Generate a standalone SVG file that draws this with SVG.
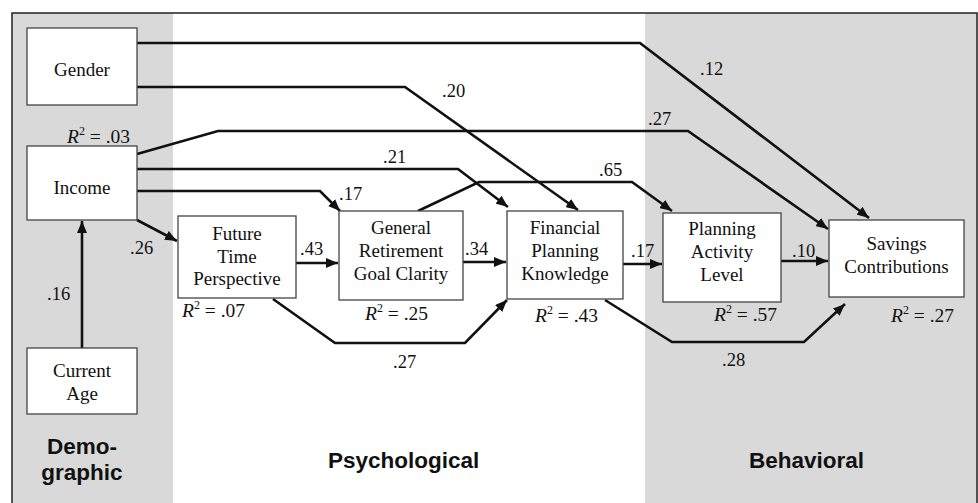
<svg xmlns="http://www.w3.org/2000/svg" width="978" height="503" viewBox="0 0 978 503">
<style>
.bg{fill:#d9d9d9}
.box{fill:#fff;stroke:#444;stroke-width:1.3}
.t{font-family:"Liberation Serif","Times New Roman",serif;font-size:19px;fill:#111;text-anchor:middle}
.l{font-family:"Liberation Serif","Times New Roman",serif;font-size:18.5px;fill:#111}
.r{font-family:"Liberation Serif","Times New Roman",serif;font-size:19.5px;fill:#111}
.sec{font-family:"Liberation Sans",Arial,sans-serif;font-size:22.5px;font-weight:bold;fill:#111}
.c{fill:none;stroke:#111;stroke-width:2.6;stroke-linejoin:miter}
</style>
<defs>
<marker id="ah" viewBox="0 0 12 10" refX="12" refY="5" markerWidth="12" markerHeight="10" markerUnits="userSpaceOnUse" orient="auto"><path d="M0,0 L12,5 L0,10 z" fill="#111"/></marker>
</defs>
<rect x="0" y="0" width="978" height="503" fill="#fff"/>
<rect class="bg" x="12" y="13" width="161" height="495"/>
<rect class="bg" x="645" y="13" width="332" height="495"/>
<rect x="12" y="13" width="965" height="500" fill="none" stroke="#222" stroke-width="1.5"/>

<g id="connectors">
<path class="c" d="M82,348 L82,221" stroke-width="3.2" marker-end="url(#ah)"/>
<path class="c" d="M137,220 L177,241" marker-end="url(#ah)"/>
<path class="c" d="M296,263 L338,263" marker-end="url(#ah)"/>
<path class="c" d="M463,262 L506,262" marker-end="url(#ah)"/>
<path class="c" d="M623,264 L662,264" marker-end="url(#ah)"/>
<path class="c" d="M781,261 L828,261" marker-end="url(#ah)"/>
<path class="c" d="M137,43 L640,43 L869,218" marker-end="url(#ah)"/>
<path class="c" d="M137,87 L405,87 L578,210" marker-end="url(#ah)"/>
<path class="c" d="M137,154 L218,131 L688,131 L828,229" marker-end="url(#ah)"/>
<path class="c" d="M137,169 L458,169 L508,207" marker-end="url(#ah)"/>
<path class="c" d="M137,191 L320,191 L340,211" marker-end="url(#ah)"/>
<path class="c" d="M418,211 L479,182 L632,182 L672,211" marker-end="url(#ah)"/>
<path class="c" d="M273,299 L335,343 L465,343 L507,300" marker-end="url(#ah)"/>
<path class="c" d="M605,300 L672,342 L804,342 L845,304" marker-end="url(#ah)"/>
</g>

<g id="gender"><rect class="box" x="27" y="28" width="110" height="77"/><text class="t" x="82" y="76">Gender</text></g>
<g id="income"><rect class="box" x="27" y="146" width="110" height="74"/><text class="t" x="82" y="194">Income</text></g>
<g id="currentAge"><rect class="box" x="27" y="348" width="110" height="66"/><text class="t" x="82" y="377">Current</text><text class="t" x="82" y="400">Age</text></g>
<g id="ftp"><rect class="box" x="178" y="216" width="118" height="82"/><text class="t" x="237" y="240">Future</text><text class="t" x="237" y="263">Time</text><text class="t" x="237" y="285">Perspective</text></g>
<g id="grgc"><rect class="box" x="339" y="211" width="124" height="89"/><text class="t" x="401" y="234">General</text><text class="t" x="401" y="257">Retirement</text><text class="t" x="401" y="280">Goal Clarity</text></g>
<g id="fpk"><rect class="box" x="507" y="211" width="116" height="88"/><text class="t" x="565" y="234">Financial</text><text class="t" x="565" y="257">Planning</text><text class="t" x="565" y="280">Knowledge</text></g>
<g id="pal"><rect class="box" x="663" y="213" width="118" height="89"/><text class="t" x="722" y="235">Planning</text><text class="t" x="722" y="258">Activity</text><text class="t" x="722" y="281">Level</text></g>
<g id="savings"><rect class="box" x="829" y="220" width="135" height="77"/><text class="t" x="896.5" y="250">Savings</text><text class="t" x="896.5" y="273">Contributions</text></g>

<g id="labels">
<text class="l" x="700" y="75">.12</text>
<text class="l" x="442" y="97">.20</text>
<text class="l" x="648" y="125">.27</text>
<text class="l" x="383" y="163">.21</text>
<text class="l" x="339" y="200">.17</text>
<text class="l" x="599" y="176">.65</text>
<text class="l" x="130" y="254">.26</text>
<text class="l" x="300" y="255">.43</text>
<text class="l" x="465" y="255">.34</text>
<text class="l" x="631" y="257">.17</text>
<text class="l" x="792" y="257">.10</text>
<text class="l" x="47" y="300">.16</text>
<text class="l" x="393" y="368">.27</text>
<text class="l" x="722" y="366">.28</text>
<text class="r" x="67" y="143"><tspan font-style="italic">R</tspan><tspan dy="-8" font-size="12">2</tspan><tspan dy="8"> = .03</tspan></text>
<text class="r" x="182" y="317"><tspan font-style="italic">R</tspan><tspan dy="-8" font-size="12">2</tspan><tspan dy="8"> = .07</tspan></text>
<text class="r" x="365" y="320"><tspan font-style="italic">R</tspan><tspan dy="-8" font-size="12">2</tspan><tspan dy="8"> = .25</tspan></text>
<text class="r" x="535" y="322"><tspan font-style="italic">R</tspan><tspan dy="-8" font-size="12">2</tspan><tspan dy="8"> = .43</tspan></text>
<text class="r" x="714" y="321"><tspan font-style="italic">R</tspan><tspan dy="-8" font-size="12">2</tspan><tspan dy="8"> = .57</tspan></text>
<text class="r" x="891" y="322"><tspan font-style="italic">R</tspan><tspan dy="-8" font-size="12">2</tspan><tspan dy="8"> = .27</tspan></text>
</g>

<g id="sections">
<text class="sec" x="82" y="454" text-anchor="middle">Demo-</text>
<text class="sec" x="82" y="480" text-anchor="middle">graphic</text>
<text class="sec" x="328" y="468">Psychological</text>
<text class="sec" x="749" y="468">Behavioral</text>
</g>
</svg>
